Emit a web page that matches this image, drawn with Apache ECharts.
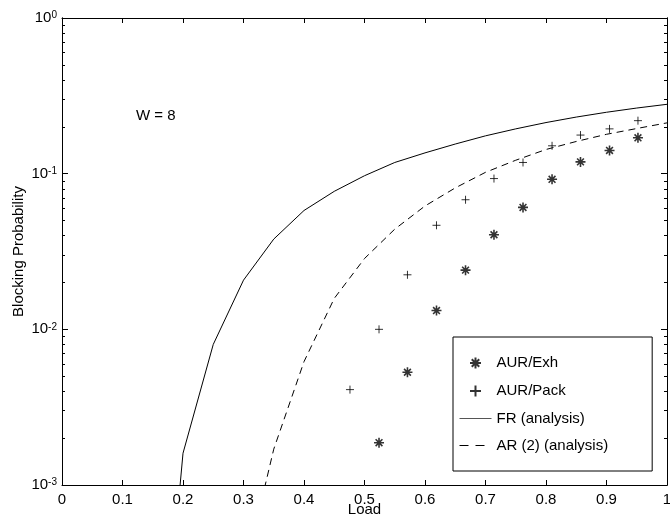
<!DOCTYPE html>
<html>
<head>
<meta charset="utf-8">
<script src="https://cdn.jsdelivr.net/npm/echarts@6/dist/echarts.min.js"></script>
<style>
  html, body { margin: 0; padding: 0; background: #fff; }
  #chart { width: 670px; height: 527px; }
</style>
</head>
<body>
<div id="chart"></div>
<script>
// load values shared by the simulated points
const loadSim = [0.476, 0.524, 0.571, 0.619, 0.667, 0.714, 0.762, 0.810, 0.857, 0.905, 0.952];
const exhSim = [null, 0.00187, 0.0053, 0.0132, 0.024, 0.0405, 0.0607, 0.092, 0.119, 0.141, 0.170];
const packSim = [0.0041, 0.0100, 0.0224, 0.0466, 0.068, 0.093, 0.118, 0.151, 0.177, 0.194, 0.219];

// analysis curves
const loadFR = [0.19, 0.2, 0.25, 0.3, 0.35, 0.4, 0.45, 0.5, 0.55, 0.6, 0.65, 0.7, 0.75, 0.8, 0.85, 0.9, 0.95, 1.0];
const fr = [0.0006, 0.0016, 0.0080, 0.0207, 0.038, 0.058, 0.077, 0.097, 0.118, 0.136, 0.155, 0.175, 0.194, 0.213, 0.231, 0.248, 0.264, 0.279];
const loadAR = [0.33, 0.35, 0.4, 0.45, 0.5, 0.55, 0.6, 0.65, 0.7, 0.75, 0.8, 0.85, 0.9, 0.95, 1.0];
const ar = [0.0008, 0.0017, 0.0062, 0.0158, 0.0285, 0.044, 0.062, 0.081, 0.102, 0.122, 0.143, 0.161, 0.179, 0.195, 0.212];

// tick values
const majorTicks = [0.001, 0.01, 0.1, 1];
const minorTicks = [];
[0.001, 0.01, 0.1].forEach(function (d) {
  for (let m = 2; m <= 9; m++) minorTicks.push(+(m * d).toPrecision(3));
});

const font = "'Liberation Sans', Arial, sans-serif";
const pair = (xs, ys) => xs.map((x, i) => [x, ys[i]]).filter(p => p[1] != null);

const asterisk = 'path://M0,5L10,5M5,0L5,10M1.6,1.6L8.4,8.4M8.4,1.6L1.6,8.4';
const plus = 'path://M0,5L10,5M5,0L5,10';

function logAxis(pos, withLabels, ticks, len) {
  return {
    type: 'log', logBase: 10, min: 0.001, max: 1, position: pos,
    name: withLabels ? 'Blocking Probability' : '',
    nameLocation: 'middle', nameGap: 36, nameMoveOverlap: false,
    nameTextStyle: { fontFamily: font, fontSize: 15, color: '#000' },
    axisLine: { show: true, lineStyle: { color: '#000', width: 1 } },
    axisTick: { show: true, inside: true, length: len, customValues: ticks,
      lineStyle: { color: '#000', width: 1 } },
    axisLabel: {
      show: withLabels, customValues: majorTicks, margin: 5,
      formatter: function (v) {
        return '{b|10}{e|' + Math.round(Math.log10(v)) + '}';
      },
      rich: {
        b: { fontFamily: font, fontSize: 15, lineHeight: 15, color: '#000', padding: [5, 0, 5, 0], verticalAlign: 'middle' },
        e: { fontFamily: font, fontSize: 10, lineHeight: 10, color: '#000', verticalAlign: 'top' }
      }
    },
    splitLine: { show: false }
  };
}

const chart = echarts.init(document.getElementById('chart'));
chart.setOption({
  animation: false,
  backgroundColor: '#fff',
  grid: { left: 62, right: 3, top: 18, bottom: 42, outerBoundsMode: 'none', containLabel: false },
  xAxis: [
    {
      type: 'value', min: 0, max: 1, interval: 0.1, position: 'bottom',
      name: 'Load', nameLocation: 'middle', nameGap: 17, nameMoveOverlap: false,
      nameTextStyle: { fontFamily: font, fontSize: 15, color: '#000' },
      axisLine: { lineStyle: { color: '#000', width: 1 } },
      axisTick: { inside: true, length: 5, lineStyle: { color: '#000' } },
      axisLabel: { fontFamily: font, fontSize: 15, color: '#000', margin: 7, hideOverlap: false },
      splitLine: { show: false }
    },
    {
      type: 'value', min: 0, max: 1, interval: 0.1, position: 'top',
      axisLine: { lineStyle: { color: '#000', width: 1 } },
      axisTick: { inside: true, length: 5, lineStyle: { color: '#000' } },
      axisLabel: { show: false },
      splitLine: { show: false }
    }
  ],
  yAxis: [
    logAxis('left', true, majorTicks, 6),
    logAxis('left', false, minorTicks, 3),
    logAxis('right', false, majorTicks, 6),
    logAxis('right', false, minorTicks, 3)
  ],
  legend: {
    orient: 'vertical', left: 453, top: 337,
    padding: [18, 44, 18, 6],
    itemWidth: 32, itemHeight: 11, itemGap: 12,
    borderColor: '#000', borderWidth: 1, backgroundColor: '#fff',
    textStyle: { fontFamily: font, fontSize: 15, color: '#000' },
    data: ['AUR/Exh', 'AUR/Pack',
      { name: 'FR (analysis)', lineStyle: { width: 1, color: '#555' } },
      { name: 'AR (2) (analysis)', lineStyle: { width: 1, type: [9, 7] } }]
  },
  graphic: [{
    type: 'text', left: 136, top: 108,
    style: { text: 'W = 8', font: '15px ' + font, fill: '#000' }
  }],
  series: [
    {
      name: 'AUR/Exh', type: 'scatter', data: pair(loadSim, exhSim),
      symbol: asterisk, symbolSize: 10, symbolKeepAspect: true,
      itemStyle: { color: 'none', borderColor: '#000', borderWidth: 1.6 }
    },
    {
      name: 'AUR/Pack', type: 'scatter', data: pair(loadSim, packSim),
      symbol: plus, symbolSize: 8, symbolKeepAspect: true,
      itemStyle: { color: 'none', borderColor: '#000', borderWidth: 1 }
    },
    {
      name: 'FR (analysis)', type: 'line', data: pair(loadFR, fr),
      symbol: 'none', clip: true,
      lineStyle: { color: '#000', width: 1 },
      itemStyle: { color: 'transparent', borderColor: 'transparent', borderWidth: 0 }
    },
    {
      name: 'AR (2) (analysis)', type: 'line', data: pair(loadAR, ar),
      symbol: 'none', clip: true,
      lineStyle: { color: '#000', width: 1, type: [7, 5] },
      itemStyle: { color: 'transparent', borderColor: 'transparent', borderWidth: 0 }
    }
  ]
});
</script>
</body>
</html>
